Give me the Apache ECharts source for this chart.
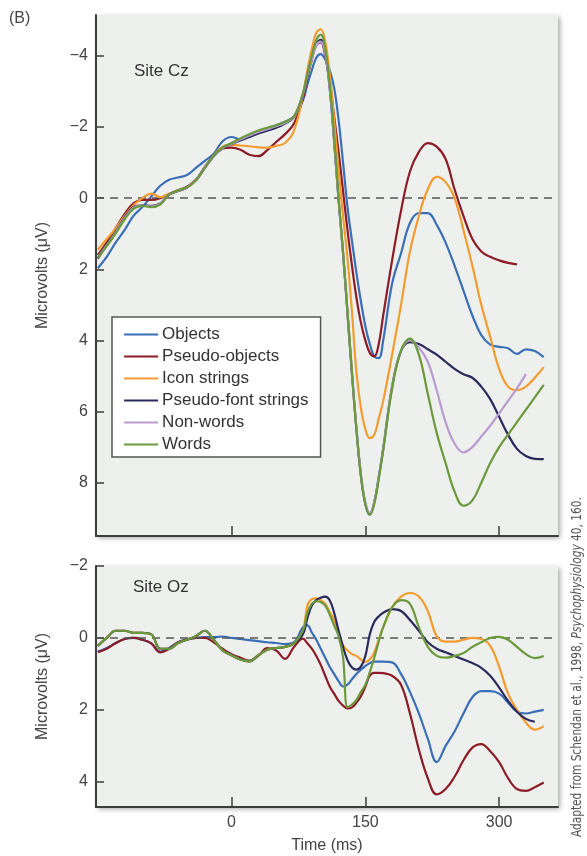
<!DOCTYPE html>
<html>
<head>
<meta charset="utf-8">
<script src="https://cdn.jsdelivr.net/npm/echarts@6/dist/echarts.min.js"></script>
<style>
  html, body { margin: 0; padding: 0; background: #fff; }
  #chart { width: 587px; height: 856px; }
</style>
</head>
<body>
<div id="chart"></div>
<script>
// time points (ms) shared by both sites
const timeMs = [-150,-140,-130,-120,-110,-100,-90,-80,-70,-60,-50,-40,-30,-20,-10,0,10,20,30,40,50,60,70,80,
  85,90,95,100,105,110,115,120,125,130,135,140,145,150,155,160,165,170,
  180,190,200,210,220,230,240,250,260,270,280,290,300,310,320,330,340,350,360];

const seriesNames = ['Objects', 'Pseudo-objects', 'Icon strings', 'Pseudo-font strings', 'Non-words', 'Words'];
const seriesColors = ['#3a6fb7', '#8c1c26', '#f49c2f', '#2b2a5c', '#b99bd1', '#6b9a3c'];

// Site Cz (microvolts, negative up)
const czObjects = [1.97,1.65,1.25,0.9,0.5,0.25,-0.05,-0.35,-0.52,-0.58,-0.65,-0.85,-1.05,-1.25,-1.6,-1.72,-1.65,-1.75,-1.85,-1.95,-2.05,-2.15,-2.3,-2.75,
  -3.2,-3.6,-3.95,-4.05,-3.9,-3.6,-3.1,-2.2,-1.0,0.25,1.2,2.1,2.9,3.6,4.1,4.45,4.5,4.0,
  2.4,1.55,0.7,0.42,0.42,0.75,1.25,1.9,2.6,3.3,3.85,4.12,4.18,4.22,4.38,4.25,4.3,4.47,null];
const czPseudoObjects = [1.6,1.25,0.85,0.45,0.15,0.05,0.05,0.0,-0.12,-0.22,-0.32,-0.52,-0.87,-1.2,-1.4,-1.42,-1.36,-1.22,-1.18,-1.35,-1.58,-1.8,-2.1,-2.8,
  -3.4,-3.9,-4.3,-4.38,-4.0,-3.3,-2.3,-1.3,-0.2,0.9,1.9,2.8,3.5,4.0,4.35,4.45,4.1,3.3,
  1.75,0.35,-0.75,-1.3,-1.55,-1.45,-1.1,-0.25,0.5,1.15,1.5,1.65,1.75,1.82,1.86,null,null,null,null];
const czIconStrings = [1.45,1.15,0.85,0.5,0.2,0.0,-0.13,-0.03,-0.12,-0.2,-0.3,-0.5,-0.85,-1.2,-1.45,-1.5,-1.48,-1.46,-1.43,-1.42,-1.47,-1.55,-1.9,-2.9,
  -3.6,-4.2,-4.65,-4.75,-4.4,-3.5,-2.2,-0.8,0.5,1.7,3.2,4.9,5.9,6.5,6.75,6.65,6.2,5.7,
  4.4,3.0,1.5,0.5,-0.25,-0.6,-0.45,0.0,0.9,1.9,3.0,3.9,4.8,5.3,5.4,5.3,5.05,4.75,null];
const czPseudoFont = [1.7,1.32,0.95,0.55,0.25,0.2,0.22,0.15,-0.1,-0.2,-0.3,-0.5,-0.85,-1.18,-1.4,-1.52,-1.62,-1.72,-1.82,-1.9,-1.98,-2.1,-2.28,-2.9,
  -3.45,-3.95,-4.35,-4.45,-4.05,-3.1,-1.6,0.05,1.55,3.25,4.95,6.5,7.8,8.6,8.9,8.55,7.85,7.05,
  5.3,4.3,4.05,4.1,4.25,4.4,4.6,4.8,4.95,5.05,5.3,5.65,6.15,6.65,7.05,7.25,7.33,7.34,null];
const czNonWords = [1.67,1.33,0.97,0.57,0.27,0.21,0.23,0.16,-0.1,-0.21,-0.3,-0.5,-0.85,-1.19,-1.41,-1.53,-1.65,-1.76,-1.86,-1.94,-2.02,-2.12,-2.29,-2.92,
  -3.45,-3.9,-4.3,-4.4,-4.05,-3.1,-1.6,0.05,1.55,3.2,4.9,6.45,7.75,8.55,8.85,8.55,7.85,7.05,
  5.3,4.3,4.0,4.2,4.6,5.4,6.3,6.9,7.15,7.0,6.7,6.4,6.05,5.7,5.35,4.95,null,null,null];
const czWords = [1.68,1.35,1.0,0.6,0.3,0.22,0.25,0.18,-0.1,-0.22,-0.3,-0.5,-0.85,-1.2,-1.42,-1.55,-1.68,-1.8,-1.9,-1.98,-2.05,-2.15,-2.3,-2.95,
  -3.5,-4.0,-4.45,-4.6,-4.2,-3.2,-1.7,0.0,1.5,3.2,4.9,6.5,7.8,8.6,8.9,8.6,7.9,7.1,
  5.35,4.28,3.95,4.4,5.5,6.6,7.45,8.25,8.65,8.5,8.0,7.45,7.0,6.65,6.3,5.95,5.6,5.25,null];

// Site Oz
const ozObjects = [0.38,0.28,0.14,0.03,0.0,0.05,0.15,0.38,0.28,0.12,0.04,0.0,-0.02,-0.02,-0.04,0.0,0.03,0.06,0.09,0.12,0.14,0.17,0.12,-0.3,
  -0.35,-0.15,0.05,0.3,0.55,0.8,1.0,1.2,1.35,1.3,1.15,1.0,0.88,0.78,0.7,0.66,0.66,0.66,
  0.68,1.0,1.5,2.1,2.8,3.45,3.0,2.6,2.1,1.65,1.48,1.48,1.55,1.8,2.05,2.1,2.05,2.0,null];
const ozPseudoObjects = [0.4,0.3,0.15,0.03,0.0,0.05,0.15,0.4,0.3,0.12,0.05,0.0,0.0,0.12,0.3,0.45,0.55,0.63,0.5,0.28,0.35,0.58,0.25,0.02,
  0.15,0.3,0.5,0.75,1.05,1.35,1.55,1.75,1.88,1.96,1.93,1.8,1.62,1.35,1.05,0.97,0.97,0.98,
  1.05,1.3,2.1,3.1,3.9,4.35,4.2,3.86,3.4,3.05,2.95,3.15,3.45,3.9,4.2,4.25,4.15,4.02,null];
const ozIconStrings = [0.22,0.0,-0.2,-0.2,-0.14,-0.14,-0.1,0.3,0.3,0.14,0.05,-0.05,-0.2,0.05,0.35,0.48,0.6,0.65,0.48,0.33,0.28,0.25,0.15,-0.2,
  -0.9,-1.08,-1.1,-1.05,-0.95,-0.72,-0.5,-0.15,0.2,0.35,0.45,0.5,0.6,0.67,0.6,0.4,0.05,-0.3,
  -0.85,-1.15,-1.25,-1.15,-0.75,-0.05,0.1,0.1,0.05,0.0,0.03,0.22,0.8,1.55,2.0,2.35,2.55,2.45,null];
const ozPseudoFont = [0.22,0.0,-0.2,-0.2,-0.14,-0.14,-0.1,0.3,0.3,0.14,0.05,-0.05,-0.2,0.05,0.35,0.48,0.6,0.65,0.48,0.33,0.28,0.25,0.15,-0.1,
  -0.55,-0.9,-1.05,-1.12,-1.15,-1.05,-0.7,-0.2,0.25,0.62,0.82,0.88,0.8,0.5,-0.1,-0.45,-0.6,-0.7,
  -0.8,-0.75,-0.5,-0.2,0.12,0.3,0.4,0.5,0.6,0.7,0.83,1.05,1.38,1.75,2.05,2.25,2.33,null,null];
const ozWords = [0.22,0.0,-0.2,-0.2,-0.14,-0.14,-0.1,0.3,0.3,0.14,0.05,-0.05,-0.2,0.05,0.35,0.48,0.6,0.65,0.48,0.33,0.28,0.25,0.15,-0.2,
  -0.7,-0.95,-1.02,-1.0,-0.9,-0.65,-0.35,-0.05,0.55,1.92,1.85,1.72,1.5,1.3,0.95,0.55,0.1,-0.3,
  -0.85,-1.05,-0.95,-0.3,0.25,0.5,0.55,0.5,0.42,0.25,0.12,0.0,-0.03,0.05,0.25,0.45,0.56,0.5,null];

const czValues = [czObjects, czPseudoObjects, czIconStrings, czPseudoFont, czNonWords, czWords];
const ozValues = [ozObjects, ozPseudoObjects, ozIconStrings, ozPseudoFont, null, ozWords];

const axisColor = '#3d3d3d';
const textColor = '#444';
const font = "'Liberation Sans', Arial, sans-serif";
const narrow = "'Liberation Sans Narrow', 'DejaVu Sans Condensed', sans-serif";
const minus = (v) => String(v).replace('-', '\u2212');

function makeSeries(vals, i, gridIdx) {
  const s = {
    name: seriesNames[i],
    type: 'line',
    xAxisIndex: gridIdx,
    yAxisIndex: gridIdx,
    data: timeMs.map((t, k) => [t, vals[k]]).filter(p => p[1] != null),
    symbol: 'none',
    smooth: 0.4,
    lineStyle: { width: 2.2, color: seriesColors[i] },
    itemStyle: { color: seriesColors[i] },
    z: 3 + i
  };
  if (i === 0) {
    // dashed zero line
    s.markLine = {
      silent: true,
      symbol: 'none',
      label: { show: false },
      lineStyle: { type: [8, 6], color: '#555', width: 1.5 },
      data: [{ yAxis: 0 }]
    };
  }
  return s;
}

const series = [];
czValues.forEach((v, i) => series.push(makeSeries(v, i, 0)));
ozValues.forEach((v, i) => { if (v) series.push(makeSeries(v, i, 1)); });

function xAxisFor(idx, showLabels) {
  return {
    type: 'value',
    gridIndex: idx,
    min: -152,
    max: 366,
    axisLine: { onZero: false, lineStyle: { color: axisColor, width: 2 } },
    axisTick: { inside: true, length: 10, customValues: [0, 150, 300], lineStyle: { color: axisColor, width: 1.5 } },
    axisLabel: { show: showLabels, customValues: [0, 150, 300], fontSize: 16, color: textColor, fontFamily: font, margin: 8 },
    splitLine: { show: false },
    name: showLabels ? 'Time (ms)' : '',
    nameLocation: 'middle',
    nameGap: 31,
    nameTextStyle: { fontSize: 16, color: textColor, fontFamily: font }
  };
}

function yAxisFor(idx, min, max, ticks) {
  return {
    type: 'value',
    gridIndex: idx,
    inverse: true,
    min: min,
    max: max,
    axisLine: { show: true, onZero: false, lineStyle: { color: axisColor, width: 2 } },
    axisTick: { show: true, inside: true, length: 8, customValues: ticks, lineStyle: { color: axisColor, width: 1.5 } },
    axisLabel: { customValues: ticks, formatter: minus, fontSize: 16, color: textColor, fontFamily: font, margin: 8 },
    splitLine: { show: false },
    name: 'Microvolts (\u03bcV)',
    nameLocation: 'middle',
    nameGap: 45,
    nameRotate: 90,
    nameTextStyle: { fontSize: 16, color: textColor, fontFamily: font }
  };
}

const gridStyle = {
  show: true,
  backgroundColor: '#eef0ee',
  borderWidth: 0,
  shadowColor: 'rgba(0,0,0,0.35)',
  shadowBlur: 5,
  shadowOffsetX: 2,
  shadowOffsetY: 2
};

const chart = echarts.init(document.getElementById('chart'));
chart.setOption({
  animation: false,
  backgroundColor: '#fff',
  grid: [
    Object.assign({ left: 96, top: 15, width: 462, height: 521 }, gridStyle),
    Object.assign({ left: 96, top: 566, width: 462, height: 241 }, gridStyle)
  ],
  xAxis: [xAxisFor(0, false), xAxisFor(1, true)],
  yAxis: [
    yAxisFor(0, -5.15, 9.5, [-4, -2, 0, 2, 4, 6, 8]),
    yAxisFor(1, -2, 4.7, [-2, 0, 2, 4])
  ],
  legend: {
    data: seriesNames,
    orient: 'vertical',
    left: 112,
    top: 317,
    width: 209,
    backgroundColor: '#fff',
    borderColor: '#555',
    borderWidth: 1.5,
    borderRadius: 0,
    padding: [9, 12, 4, 11],
    itemWidth: 34,
    itemHeight: 14,
    itemGap: 5,
    itemStyle: { opacity: 0 },
    lineStyle: { width: 2.2 },
    textStyle: { fontSize: 17, lineHeight: 17, color: '#333', fontFamily: font, padding: [0, 0, 0, -1] },
    selectedMode: false
  },
  graphic: [
    { type: 'text', left: 9, top: 11, style: { text: '(B)', fontSize: 16, fill: textColor, fontFamily: font } },
    { type: 'text', left: 134, top: 63, style: { text: 'Site Cz', fontSize: 17, fill: '#333', fontFamily: font } },
    { type: 'text', left: 133, top: 579, style: { text: 'Site Oz', fontSize: 17, fill: '#333', fontFamily: font } },
    {
      type: 'text',
      x: 577,
      y: 837,
      rotation: Math.PI / 2,
      scaleX: 0.84,
      style: {
        text: '{a|Adapted from Schendan et al., 1998, }{b|Psychophysiology}{a| 40, 160.}',
        align: 'left',
        verticalAlign: 'middle',
        rich: {
          a: { fontSize: 14, fill: '#555', fontFamily: narrow },
          b: { fontSize: 14, fill: '#555', fontStyle: 'italic', fontFamily: narrow }
        }
      }
    }
  ],
  series: series
});
</script>
</body>
</html>
